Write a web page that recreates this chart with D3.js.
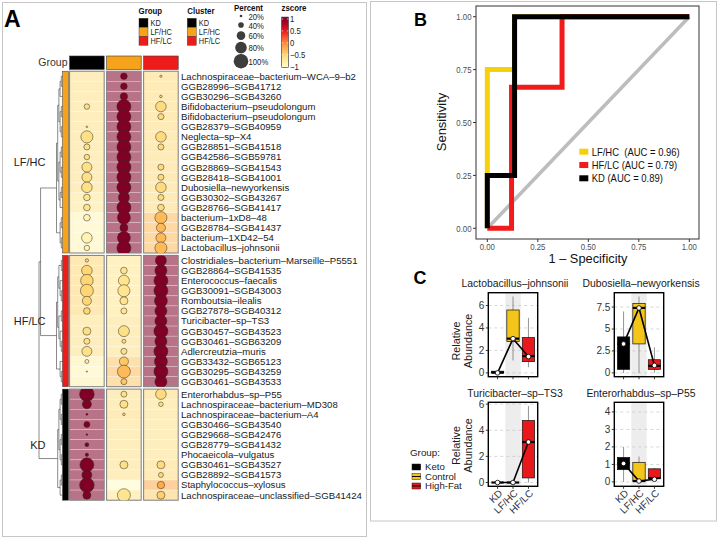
<!DOCTYPE html>
<html>
<head>
<meta charset="utf-8">
<script src="https://cdn.jsdelivr.net/npm/d3@7"></script>
<style>
  body { margin: 0; background: #fff; }
  svg text { font-family: "Liberation Sans", Arial, Helvetica, sans-serif; }
</style>
</head>
<body>
<svg id="fig" width="720" height="539"></svg>
<script>
"use strict";

// ---------------- Panel A : bubble heatmap ----------------
var groups = ["KD", "LF/HC", "HF/LC"];
var groupColors = ["#000000", "#f7a21b", "#ee1b1b"];
var clusterNames = ["LF/HC", "HF/LC", "KD"];
var clusterColors = ["#f7a21b", "#ee1b1b", "#000000"];
var clusterSizes = [18, 13, 11];

var taxa = [
  // LF/HC cluster
  "Lachnospiraceae–bacterium–WCA–9–b2", "GGB28996–SGB41712", "GGB30296–SGB43260",
  "Bifidobacterium–pseudolongum", "Bifidobacterium–pseudolongum", "GGB28379–SGB40959",
  "Neglecta–sp–X4", "GGB28851–SGB41518", "GGB42586–SGB59781", "GGB28869–SGB41543",
  "GGB28418–SGB41001", "Dubosiella–newyorkensis", "GGB30302–SGB43267", "GGB28766–SGB41417",
  "bacterium–1xD8–48", "GGB28784–SGB41437", "bacterium–1XD42–54", "Lactobacillus–johnsonii",
  // HF/LC cluster
  "Clostridiales–bacterium–Marseille–P5551", "GGB28864–SGB41535", "Enterococcus–faecalis",
  "GGB30091–SGB43003", "Romboutsia–ilealis", "GGB27878–SGB40312", "Turicibacter–sp–TS3",
  "GGB30457–SGB43523", "GGB30461–SGB63209", "Adlercreutzia–muris", "GGB33432–SGB65123",
  "GGB30295–SGB43259", "GGB30461–SGB43533",
  // KD cluster
  "Enterorhabdus–sp–P55", "Lachnospiraceae–bacterium–MD308", "Lachnospiraceae–bacterium–A4",
  "GGB30466–SGB43540", "GGB29668–SGB42476", "GGB28779–SGB41432", "Phocaeicola–vulgatus",
  "GGB30461–SGB43527", "GGB28892–SGB41573", "Staphylococcus–xylosus",
  "Lachnospiraceae–unclassified–SGB41424"
];

// percent of samples carrying the taxon, one array per diet column
var pctKD = [
  0, 0, 0, 39, 0, 14, 83, 43, 39, 69, 69, 73, 47, 47, 47, 0, 73, 39,
  25, 73, 86, 89, 63, 47, 0, 56, 43, 69, 29, 12, 0,
  100, 63, 16, 43, 14, 29, 25, 96, 69, 100, 56];
var pctLFHC = [
  47, 47, 52, 96, 96, 96, 96, 96, 96, 96, 96, 96, 76, 96, 89, 56, 89, 96,
  0, 47, 76, 83, 56, 43, 0, 76, 29, 43, 63, 89, 43,
  43, 56, 20, 0, 0, 0, 0, 56, 0, 0, 89];
var pctHFLC = [
  18, 0, 20, 73, 43, 0, 73, 43, 0, 43, 43, 73, 43, 47, 83, 63, 69, 83,
  76, 83, 96, 96, 89, 83, 83, 96, 83, 96, 89, 96, 83,
  73, 33, 0, 0, 0, 0, 0, 56, 36, 52, 56];

// row z-scores of the mean abundance
var zKD = [
  -0.6, -0.6, -0.6, -0.6, -0.6, -0.6, -0.6, -0.6, -0.6, -0.6, -0.6, -0.6, -0.65, -0.65, -0.85, -0.85, -0.85, -0.85,
  -0.5, -0.5, -0.5, -0.5, -0.5, -0.5, -0.6, -0.6, -0.6, -0.6, -0.8, -0.85, -0.8,
  1.15, 1.15, 1.15, 1.15, 1.15, 1.15, 1.15, 1.15, 1.15, 1.15, 1.15];
var zLFHC = [
  1.15, 1.15, 1.15, 1.15, 1.15, 1.15, 1.15, 1.15, 1.15, 1.15, 1.15, 1.15, 1.15, 1.15, 1.15, 1.15, 1.15, 1.15,
  -0.65, -0.65, -0.65, -0.65, -0.65, -0.65, -0.6, -0.6, -0.6, -0.6, -0.4, -0.3, -0.4,
  -0.6, -0.6, -0.55, -0.6, -0.6, -0.6, -0.6, -0.6, -0.6, -0.95, -0.65];
var zHFLC = [
  -0.55, -0.55, -0.55, -0.55, -0.55, -0.55, -0.55, -0.55, -0.55, -0.55, -0.55, -0.55, -0.55, -0.55, -0.3, -0.3, -0.3, -0.3,
  1.15, 1.15, 1.15, 1.15, 1.15, 1.15, 1.15, 1.15, 1.15, 1.15, 1.15, 1.15, 1.15,
  -0.55, -0.6, -0.6, -0.6, -0.6, -0.6, -0.6, -0.55, -0.55, -0.2, -0.45];

// row dendrograms inside each cluster (leaf = row index within the cluster)
var treeLFHC = [[[[[0, 1], 2], [[3, 4], [5, 6]]], [[[7, 8], [9, 10]], [[11, 12], 13]]], [[14, 15], [16, 17]]];
var treeHFLC = [[[[0, 1], [2, [3, 4]]], [[5, 6], [7, [8, 9]]]], [10, [11, 12]]];
var treeKD = [[[[0, 1], [2, 3]], [[4, 5], [6, 7]]], [[8, 9], 10]];
var mainMerge = [0.91, 1.0];   // (LF/HC + HF/LC), then + KD

var percentBreaks = [20, 40, 60, 80, 100];
var zBreaks = [1, 0.5, 0, -0.5, -1];

// ---------------- Panel B : ROC ----------------
var rocNames = ["LF/HC", "HF/LC", "KD"];
var rocLabels = ["LF/HC  (AUC = 0.96)", "HF/LC (AUC = 0.79)", "KD (AUC = 0.89)"];
var rocColors = ["#f5d10d", "#f21b1b", "#000000"];
var fprLF = [0, 0, 0.135, 0.135, 1];
var tprLF = [0, 0.75, 0.75, 1, 1];
var fprHF = [0, 0.12, 0.12, 0.37, 0.37, 1];
var tprHF = [0, 0, 0.667, 0.667, 1, 1];
var fprKD = [0, 0, 0.135, 0.135, 1];
var tprKD = [0, 0.25, 0.25, 1, 1];
var rocTicks = [0, 0.25, 0.5, 0.75, 1];

// ---------------- Panel C : box plots ----------------
var boxTaxa = ["Lactobacillus–johnsonii", "Dubosiella–newyorkensis", "Turicibacter–sp–TS3", "Enterorhabdus–sp–P55"];
var boxGroups = ["KD", "LF/HC", "HF/LC"];
var boxColors = ["#000000", "#f4c61a", "#e8181d"];
var boxLegend = ["Keto", "Control", "High-Fat"];
// lower whisker, q1, median, q3, upper whisker
var statsLacto = [[0, 0, 0.02, 0.15, 0.15], [1.1, 2.8, 3.05, 5.6, 6.8], [0.5, 1.0, 1.5, 3.15, 4.9]];
var statsDubo = [[0, 0.4, 3.3, 4.1, 7.0], [0, 3.3, 7.4, 7.9, 8.7], [0, 0.4, 0.8, 1.5, 2.9]];
var statsTuri = [[0, 0, 0, 0, 0], [0, 0, 0, 0, 0], [0, 0.35, 3.1, 4.75, 5.85]];
var statsEntero = [[0, 0.7, 1.05, 1.4, 2.0], [0, 0.02, 0.05, 1.12, 1.45], [0.15, 0.2, 0.22, 0.75, 0.8]];
var meansLacto = [0, 3.05, 1.45];
var meansDubo = [3.3, 7.4, 0.85];
var meansTuri = [0, 0, 3.1];
var meansEntero = [1.05, 0.05, 0.15];
var boxTicks = [[0, 2, 4, 6], [0, 2.5, 5, 7.5], [0, 2, 4, 6], [0, 1, 2, 3, 4]];
var boxDomains = [[-0.34, 7.14], [-0.435, 9.135], [-0.29, 6.14], [-0.25, 4.55]];

// =====================================================================
var svg = d3.select("#fig");

// text squeezed horizontally (the figure's small labels are narrow)
function ntext(sel, x, y, str, size, sx, anchor) {
    return sel.append("text")
        .attr("transform", "translate(" + x + "," + y + ") scale(" + sx + ",1)")
        .attr("dy", "0.35em").attr("text-anchor", anchor || "start")
        .attr("font-size", size).text(str);
}

// frames
svg.append("rect").attr("x", 2.5).attr("y", 2.5).attr("width", 364).attr("height", 534)
    .attr("fill", "none").attr("stroke", "#c6c6c6");
svg.append("rect").attr("x", 370.5).attr("y", 1.5).attr("width", 346).attr("height", 519.5)
    .attr("fill", "none").attr("stroke", "#c6c6c6");

function letter(t, x, y, size) {
    svg.append("text").attr("x", x).attr("y", y).attr("font-size", size)
        .attr("font-weight", "bold").text(t);
}
letter("A", 4, 26.7, 23);
letter("B", 414, 26, 18);
letter("C", 413.5, 284, 18);

// ---------- heatmap ----------
var nRows = taxa.length;
var zColor = d3.scaleSequential(d3.interpolateYlOrRd).domain([-1, 1]).clamp(true);
var rSize = d3.scaleLinear().domain([20, 100]).range([1.3, 7.3]);
var xCol = d3.scaleBand().domain(groups).range([69.6, 178.2]).paddingInner(0.066);
var rowH = 10.1, blockGap = 2.4, heatTop = 71.2;
var yRow = d3.scaleLinear().domain([0, nRows]).range([heatTop, heatTop + nRows * rowH]);

var clusterStart = [0].concat(Array.from(d3.cumsum(clusterSizes)).slice(0, -1));
var rowCluster = [];
clusterSizes.forEach(function (n, c) { d3.range(n).forEach(function () { rowCluster.push(c); }); });
function rowTop(i) { return yRow(i) + rowCluster[i] * blockGap; }
function rowMid(i) { return rowTop(i) + rowH / 2; }
function blockTop(c) { return rowTop(clusterStart[c]); }
function blockBottom(c) { return rowTop(clusterStart[c] + clusterSizes[c] - 1) + rowH; }

var rows = taxa.map(function (name, i) {
    return {
        name: name, i: i,
        pct: [pctKD[i], pctLFHC[i], pctHFLC[i]],
        z: [zKD[i], zLFHC[i], zHFLC[i]]
    };
});
var cells = [];
rows.forEach(function (r) {
    groups.forEach(function (g, j) { cells.push({ row: r.i, g: g, pct: r.pct[j], z: r.z[j] }); });
});

var gHeat = svg.append("g");
gHeat.selectAll(".cell").data(cells).enter().append("rect")
    .attr("class", "cell")
    .attr("x", function (d) { return xCol(d.g); })
    .attr("y", function (d) { return rowTop(d.row); })
    .attr("width", xCol.bandwidth())
    .attr("height", rowH)
    .attr("fill", function (d) { return zColor(d.z); })
    .attr("fill-opacity", 0.55)
    .attr("stroke", "#ffffff").attr("stroke-opacity", 0.45).attr("stroke-width", 0.6);

// block borders + clip for the bubbles of each block
clusterNames.forEach(function (cn, c) {
    groups.forEach(function (g) {
        gHeat.append("rect")
            .attr("x", xCol(g)).attr("y", blockTop(c))
            .attr("width", xCol.bandwidth()).attr("height", blockBottom(c) - blockTop(c))
            .attr("fill", "none").attr("stroke", "#7d7d7d").attr("stroke-width", 1);
    });
    svg.append("clipPath").attr("id", "clip" + c).append("rect")
        .attr("x", 60).attr("y", blockTop(c)).attr("width", 130)
        .attr("height", blockBottom(c) - blockTop(c));
});

// bubbles
clusterNames.forEach(function (cn, c) {
    var sub = cells.filter(function (d) { return rowCluster[d.row] === c && d.pct > 0; });
    gHeat.append("g").attr("clip-path", "url(#clip" + c + ")")
        .selectAll("circle").data(sub).enter().append("circle")
        .attr("cx", function (d) { return xCol(d.g) + xCol.bandwidth() / 2; })
        .attr("cy", function (d) { return rowMid(d.row); })
        .attr("r", function (d) { return rSize(d.pct); })
        .attr("fill", function (d) { return zColor(d.z); })
        .attr("stroke", "#2e2a20").attr("stroke-width", 0.5);
});

// top annotation
groups.forEach(function (g, j) {
    svg.append("rect").attr("x", xCol(g)).attr("y", 56).attr("width", xCol.bandwidth()).attr("height", 13.4)
        .attr("fill", groupColors[j]).attr("stroke", "#3a3a3a").attr("stroke-width", 0.6);
});
svg.append("text").attr("x", 67.5).attr("y", 62.8).attr("dy", "0.35em").attr("text-anchor", "end")
    .attr("font-size", 10.5).attr("fill", "#333").text("Group");

// left annotation + cluster labels
clusterNames.forEach(function (cn, c) {
    svg.append("rect").attr("x", 62.5).attr("y", blockTop(c)).attr("width", 6)
        .attr("height", blockBottom(c) - blockTop(c))
        .attr("fill", clusterColors[c]).attr("stroke", "#3a3a3a").attr("stroke-width", 0.5);
    svg.append("text").attr("x", 45.5).attr("y", (blockTop(c) + blockBottom(c)) / 2)
        .attr("dy", "0.35em").attr("text-anchor", "end").attr("font-size", 11)
        .attr("fill", "#222").text(cn);
});

// row names
svg.append("g").selectAll("text").data(rows).enter().append("text")
    .attr("x", 181).attr("y", function (d) { return rowMid(d.i); })
    .attr("dy", "0.35em").attr("font-size", 9.6).attr("fill", "#1a1a1a")
    .text(function (d) { return d.name; });

// ---------- dendrogram ----------
var xDend = d3.scaleLinear().domain([0, 5]).range([62.5, 56.5]);
var xMain = d3.scaleLinear().domain([0, 1]).range([56.5, 39]);
var gDend = svg.append("g").attr("fill", "none").attr("stroke", "#3c3c3c").attr("stroke-width", 0.6);

function layoutTree(nested, offset) {
    var root = d3.hierarchy(nested, function (d) { return Array.isArray(d) ? d : null; });
    root.eachAfter(function (n) {
        n.py = n.children ? (n.children[0].py + n.children[1].py) / 2 : rowMid(offset + n.data);
        n.px = xDend(n.height);
    });
    root.descendants().filter(function (n) { return n.children; }).forEach(function (n) {
        var a = n.children[0], b = n.children[1];
        gDend.append("path")
            .attr("d", "M" + a.px + "," + a.py + "H" + n.px + "V" + b.py + "H" + b.px);
    });
    return root;
}
var subRoots = [treeLFHC, treeHFLC, treeKD].map(function (t, c) {
    return layoutTree(t, clusterStart[c]);
});
var m1 = { px: xMain(mainMerge[0]), py: (subRoots[0].py + subRoots[1].py) / 2 };
gDend.append("path").attr("d", "M" + subRoots[0].px + "," + subRoots[0].py + "H" + m1.px +
    "V" + subRoots[1].py + "H" + subRoots[1].px);
var rootX = xMain(mainMerge[1]);
gDend.append("path").attr("d", "M" + m1.px + "," + m1.py + "H" + rootX +
    "V" + subRoots[2].py + "H" + subRoots[2].px);

// ---------- legends of panel A ----------
function legendTitle(t, x, y) {
    ntext(svg, x, y, t, 9.4, 0.84).attr("font-weight", "bold").attr("fill", "#111");
}
legendTitle("Group", 138.5, 10.8);
legendTitle("Cluster", 187.3, 10.8);
legendTitle("Percent", 234, 7.4);
legendTitle("zscore", 281.5, 7.4);

function keyBlock(x, names, colors) {
    names.forEach(function (n, k) {
        svg.append("rect").attr("x", x).attr("y", 18.3 + k * 9).attr("width", 9).attr("height", 9)
            .attr("fill", colors[k]).attr("stroke", "#333").attr("stroke-width", 0.4);
        ntext(svg, x + 11.5, 22.8 + k * 9, n, 8.2, 0.9).attr("fill", "#222");
    });
}
keyBlock(139, groups, groupColors);
keyBlock(187.3, ["KD", "LF/HC", "HF/LC"], ["#000000", "#f7a21b", "#ee1b1b"]);

var pcy = [];
percentBreaks.forEach(function (p, k) {
    pcy.push(k === 0 ? 16 : pcy[k - 1] + (rSize(percentBreaks[k - 1]) + rSize(p)) / 2 + 7);
});
percentBreaks.forEach(function (p, k) {
    svg.append("circle").attr("cx", 241).attr("cy", pcy[k]).attr("r", rSize(p)).attr("fill", "#3d3d3d");
    ntext(svg, 248.5, pcy[k] + 0.8, p + "%", 8.4, 0.92).attr("fill", "#222");
});

var barY = d3.scaleLinear().domain([-1, 1]).range([66.7, 19]);
var grad = svg.append("defs").append("linearGradient").attr("id", "zgrad")
    .attr("x1", 0).attr("y1", 1).attr("x2", 0).attr("y2", 0);
d3.range(0, 1.0001, 0.1).forEach(function (t) {
    grad.append("stop").attr("offset", t).attr("stop-color", zColor(-1.04 + 2.12 * t));
});
svg.append("rect").attr("x", 281.7).attr("y", barY(1.08)).attr("width", 6.6)
    .attr("height", barY(-1.04) - barY(1.08)).attr("fill", "url(#zgrad)")
    .attr("stroke", "#222").attr("stroke-width", 0.6);
zBreaks.forEach(function (v) {
    svg.append("line").attr("x1", 281.7).attr("x2", 283.2).attr("y1", barY(v)).attr("y2", barY(v))
        .attr("stroke", "#fff").attr("stroke-width", 0.6);
    svg.append("line").attr("x1", 286.8).attr("x2", 288.3).attr("y1", barY(v)).attr("y2", barY(v))
        .attr("stroke", "#fff").attr("stroke-width", 0.6);
    ntext(svg, 290, barY(v), String(v).replace("-", "−"), 8.8, 0.88).attr("fill", "#222");
});

// ---------------- Panel B ----------------
var xB = d3.scaleLinear().domain([-0.056, 1.048]).range([476, 699]);
var yB = d3.scaleLinear().domain([-0.0506, 1.0506]).range([239, 6]);
var gB = svg.append("g");
gB.append("line").attr("x1", xB(0)).attr("y1", yB(0)).attr("x2", xB(1)).attr("y2", yB(1))
    .attr("stroke", "#bdbdbd").attr("stroke-width", 3.6);

var rocLine = d3.line().x(function (d) { return xB(d[0]); }).y(function (d) { return yB(d[1]); });
[[fprLF, tprLF], [fprHF, tprHF], [fprKD, tprKD]].forEach(function (s, k) {
    gB.append("path").datum(d3.zip(s[0], s[1])).attr("d", rocLine)
        .attr("fill", "none").attr("stroke", rocColors[k]).attr("stroke-width", 5)
        .attr("stroke-linejoin", "miter");
});
gB.append("rect").attr("x", 476).attr("y", 6).attr("width", 223).attr("height", 233)
    .attr("fill", "none").attr("stroke", "#333").attr("stroke-width", 1);

rocTicks.forEach(function (t) {
    var lab = d3.format(".2f")(t);
    gB.append("line").attr("x1", 473).attr("x2", 476).attr("y1", yB(t)).attr("y2", yB(t)).attr("stroke", "#333");
    ntext(gB, 471.5, yB(t), lab, 9.4, 0.83, "end").attr("fill", "#4d4d4d");
    gB.append("line").attr("y1", 239).attr("y2", 242).attr("x1", xB(t)).attr("x2", xB(t)).attr("stroke", "#333");
    ntext(gB, xB(t), 246.3, lab, 9.4, 0.83, "middle").attr("fill", "#4d4d4d");
});
gB.append("text").attr("x", 588).attr("y", 262.5).attr("text-anchor", "middle")
    .attr("font-size", 12.8).attr("fill", "#111").text("1 – Specificity");
gB.append("text").attr("transform", "translate(441.7,122) rotate(-90)").attr("dy", "0.35em")
    .attr("text-anchor", "middle").attr("font-size", 13).attr("fill", "#111").text("Sensitivity");

rocNames.forEach(function (n, k) {
    var cy = 151.7 + k * 13.3;
    gB.append("rect").attr("x", 579.3).attr("y", cy - 3).attr("width", 9).attr("height", 6).attr("fill", rocColors[k]);
    ntext(gB, 591.7, cy, rocLabels[k], 11.4, 0.83).attr("fill", "#111").style("white-space", "pre");
});

// ---------------- Panel C ----------------
var boxStats = [statsLacto, statsDubo, statsTuri, statsEntero];
var boxMeans = [meansLacto, meansDubo, meansTuri, meansEntero];
var cellX = [488.3, 614.3], cellY = [292.7, 402.3], cellW = 49.4, cellH = 84;

boxTaxa.forEach(function (name, k) {
    var col = k % 2, row = Math.floor(k / 2);
    var x0 = cellX[col], y0 = cellY[row];
    var g = svg.append("g");
    var x = d3.scalePoint().domain(boxGroups).range([x0, x0 + cellW]).padding(0.6);
    var y = d3.scaleLinear().domain(boxDomains[k]).range([y0 + cellH, y0]);
    var bw = x.step() * 0.8;
    var data = boxGroups.map(function (gname, j) {
        return { g: gname, s: boxStats[k][j], mean: boxMeans[k][j], color: boxColors[j] };
    });

    g.append("rect").attr("x", x("LF/HC") - x.step() / 2).attr("y", y0)
        .attr("width", x.step()).attr("height", cellH).attr("fill", "#ededed");
    g.selectAll(".grid").data(boxTicks[k]).enter().append("line")
        .attr("x1", x0).attr("x2", x0 + cellW)
        .attr("y1", function (d) { return y(d); }).attr("y2", function (d) { return y(d); })
        .attr("stroke", "#c4c4c4").attr("stroke-width", 0.7).attr("stroke-dasharray", "3,3");

    // whiskers
    g.selectAll(".wh").data(data).enter().append("line")
        .attr("x1", function (d) { return x(d.g); }).attr("x2", function (d) { return x(d.g); })
        .attr("y1", function (d) { return y(d.s[0]); }).attr("y2", function (d) { return y(d.s[4]); })
        .attr("stroke", "#7a7a7a").attr("stroke-width", 0.8);
    // boxes
    g.selectAll(".bx").data(data).enter().append("rect")
        .attr("x", function (d) { return x(d.g) - bw / 2; })
        .attr("y", function (d) { return y(d.s[3]); })
        .attr("width", bw)
        .attr("height", function (d) { return y(d.s[1]) - y(d.s[3]); })
        .attr("fill", function (d) { return d.color; })
        .attr("stroke", "#111").attr("stroke-width", 0.7);
    // medians
    g.selectAll(".md").data(data).enter().append("line")
        .attr("x1", function (d) { return x(d.g) - bw / 2; }).attr("x2", function (d) { return x(d.g) + bw / 2; })
        .attr("y1", function (d) { return y(d.s[2]); }).attr("y2", function (d) { return y(d.s[2]); })
        .attr("stroke", "#000").attr("stroke-width", 2.2);
    // means
    g.append("path").datum(data)
        .attr("d", d3.line().x(function (d) { return x(d.g); }).y(function (d) { return y(d.mean); }))
        .attr("fill", "none").attr("stroke", "#000").attr("stroke-width", 1.6);
    g.selectAll(".mn").data(data).enter().append("circle")
        .attr("cx", function (d) { return x(d.g); }).attr("cy", function (d) { return y(d.mean); })
        .attr("r", 2.3).attr("fill", "#fff").attr("stroke", "#000").attr("stroke-width", 0.8);

    g.append("rect").attr("x", x0).attr("y", y0).attr("width", cellW).attr("height", cellH)
        .attr("fill", "none").attr("stroke", "#000").attr("stroke-width", 1.4);

    boxTicks[k].forEach(function (t) {
        g.append("line").attr("x1", x0 - 2.5).attr("x2", x0).attr("y1", y(t)).attr("y2", y(t)).attr("stroke", "#333");
        g.append("text").attr("x", x0 - 4).attr("y", y(t)).attr("dy", "0.35em").attr("text-anchor", "end")
            .attr("font-size", 10).attr("fill", "#333").text(t);
    });
    boxGroups.forEach(function (gname) {
        g.append("line").attr("x1", x(gname)).attr("x2", x(gname)).attr("y1", y0 + cellH)
            .attr("y2", y0 + cellH + 2.5).attr("stroke", "#333");
        if (row === 1) {
            g.append("text").attr("transform", "translate(" + (x(gname) + 3) + "," + (y0 + cellH + 5) + ") rotate(-45)")
                .attr("dy", "0.35em").attr("text-anchor", "end").attr("font-size", 10).attr("fill", "#333").text(gname);
        }
    });
    g.append("text").attr("x", x0 + cellW / 2 + 2).attr("y", y0 - 9.4).attr("dy", "0.35em")
        .attr("text-anchor", "middle").attr("font-size", 10.4).attr("fill", "#1a1a1a").text(name);

    if (col === 0) {
        var cy = row === 0 ? 341 : 445.5;
        g.append("text").attr("transform", "translate(456," + cy + ") rotate(-90)").attr("dy", "0.35em")
            .attr("text-anchor", "middle").attr("font-size", 10.8).attr("fill", "#1a1a1a").text("Relative");
        g.append("text").attr("transform", "translate(468.3," + cy + ") rotate(-90)").attr("dy", "0.35em")
            .attr("text-anchor", "middle").attr("font-size", 10.8).attr("fill", "#1a1a1a").text("Abundance");
    }
});

// legend of panel C
svg.append("text").attr("x", 410).attr("y", 452.7).attr("dy", "0.35em").attr("font-size", 9.8)
    .attr("fill", "#222").text("Group:");
boxLegend.forEach(function (n, k) {
    var cy = 467 + k * 9.5;
    svg.append("rect").attr("x", 412).attr("y", cy - 3).attr("width", 8.7).attr("height", 6)
        .attr("fill", boxColors[k]).attr("stroke", "#222").attr("stroke-width", 0.5);
    svg.append("line").attr("x1", 412).attr("x2", 420.7).attr("y1", cy).attr("y2", cy)
        .attr("stroke", "#000").attr("stroke-width", 1);
    svg.append("text").attr("x", 425).attr("y", cy).attr("dy", "0.35em").attr("font-size", 9.6)
        .attr("fill", "#222").text(n);
});
</script>
</body>
</html>
